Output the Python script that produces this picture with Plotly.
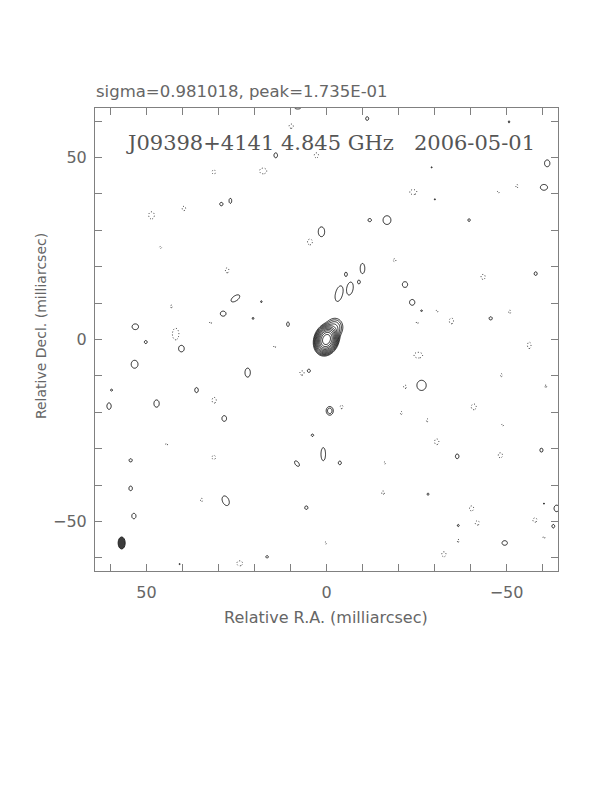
import numpy as np
import plotly.graph_objects as go

# ---------------- data (mas) ----------------
# Core + jet components: position, peak (in units of lowest contour), gaussian sigmas, PA (deg)
core_x = [0.0, -2.0]
core_y = [0.0, 3.0]
core_peak = [2048.0, 12.0]
core_sx = [0.9, 1.1]
core_sy = [1.2, 1.3]
core_pa = [20.0, 25.0]

# Positive (solid) low-level features: position, lowest-contour radii, peak, PA
pos_x = [14.1, 29.2, 26.7, 1.4, 25.3, 18.1, 28.7, 20.4, 53.1, 10.7, 8.0,
         -11.3, -50.7, -61.3, -29.2, -30.1, -60.4, -12.0, -16.8, -39.6, -10.0,
         -5.4, -9.0, -6.5, -3.5, -21.8, -23.8, -26.4, -45.6, -58.1,
         50.2, 40.3, 53.3, 21.9, 4.9, 59.7, 36.1, 60.4, 47.2, 28.4,
         -0.9, 3.9, 0.9, 54.4, 8.2, 54.4, 28.0, 5.6, 53.5, 16.5, 40.8,
         -26.4, -36.3, -59.7, -3.7, -28.2, -60.4, -63.9, -36.6, -63.0, -49.5]
pos_y = [50.6, 37.2, 38.1, 29.6, 11.3, 10.4, 7.1, 5.8, 3.5, 4.2, 63.9,
         60.7, 59.8, 48.4, 47.3, 38.5, 41.8, 32.8, 32.8, 32.8, 19.5,
         17.9, 15.8, 14.0, 12.6, 15.1, 10.2, 7.9, 5.8, 18.1,
         -0.7, -2.5, -6.8, -9.1, -8.6, -13.9, -13.9, -18.3, -17.6, -21.7,
         -19.6, -26.3, -31.5, -33.2, -34.1, -40.9, -44.3, -46.2, -48.5, -59.7, -61.7,
         -12.6, -32.1, -30.4, -33.9, -42.5, -45.1, -46.4, -51.1, -51.3, -55.9]
pos_rx = [0.5, 0.45, 0.4, 0.9, 0.7, 0.25, 0.8, 0.25, 0.9, 0.4, 1.0,
          0.45, 0.25, 0.75, 0.2, 0.2, 1.0, 0.5, 1.1, 0.35, 0.65,
          0.4, 0.4, 0.9, 1.0, 0.75, 0.75, 0.25, 0.45, 0.45,
          0.4, 0.8, 0.95, 0.75, 0.45, 0.3, 0.5, 0.6, 0.75, 0.65,
          1.0, 0.35, 0.65, 0.45, 0.5, 0.5, 0.9, 0.45, 0.6, 0.35, 0.2,
          1.3, 0.5, 0.45, 0.45, 0.3, 0.2, 0.7, 0.3, 0.4, 0.75]
pos_ry = [0.7, 0.5, 0.7, 1.35, 1.4, 0.25, 0.7, 0.3, 0.8, 0.6, 0.6,
          0.5, 0.3, 0.95, 0.2, 0.2, 0.8, 0.45, 1.2, 0.4, 1.4,
          0.6, 0.55, 1.8, 2.2, 0.8, 0.8, 0.25, 0.45, 0.5,
          0.45, 0.9, 1.1, 1.25, 0.45, 0.3, 0.7, 0.9, 1.0, 0.8,
          1.2, 0.35, 1.8, 0.45, 0.9, 0.65, 1.4, 0.5, 0.75, 0.35, 0.2,
          1.4, 0.65, 0.55, 0.5, 0.3, 0.2, 0.9, 0.3, 0.5, 0.65]
pos_peak = [1.6] * len(pos_x)
pos_peak[40] = 2.3
pos_pa = [0.0] * len(pos_x)
pos_pa[4] = 55.0
pos_pa[23] = 10.0
pos_pa[24] = 15.0
pos_pa[44] = -40.0
pos_pa[46] = -25.0

# Negative (dotted) low-level features: position, lowest-contour radii
neg_x = [9.8, 2.8, 31.3, 17.6, 39.6, 48.6, 4.6, 46.1, 27.6, 43.1, 41.9, 32.2,
         -24.1, -47.7, -52.9, -18.9, -30.7, -34.7, -25.2, -43.5, -50.9,
         14.4, 6.8, 31.2, 44.4, 31.3, 34.7, 24.1, 0.2,
         -25.5, -56.3, -21.8, -48.6, -60.9, -4.2, -40.9, -20.8, -28.0, -48.9,
         -30.6, -48.3, -16.2, -15.7, -40.3, -41.9, -57.9, -36.6, -60.4, -32.6]
neg_y = [58.6, 50.6, 46.0, 46.3, 36.0, 34.1, 26.8, 25.3, 19.0, 9.1, 1.5, 4.6,
         40.5, 40.5, 42.1, 21.8, 7.8, 5.1, 4.6, 17.2, 7.6,
         -2.0, -9.2, -16.7, -28.8, -32.4, -44.1, -61.5, -55.9,
         -4.3, -1.6, -13.0, -9.8, -12.8, -18.5, -18.5, -20.2, -22.2, -23.5,
         -28.1, -31.8, -33.9, -42.1, -46.4, -50.4, -49.6, -55.3, -54.4, -59.0]
neg_rx = [0.6, 0.6, 0.5, 1.0, 0.5, 0.8, 0.7, 0.3, 0.5, 0.3, 0.9, 0.3,
          1.0, 0.3, 0.3, 0.4, 0.3, 0.6, 0.3, 0.6, 0.3,
          0.3, 0.6, 0.6, 0.3, 0.5, 0.3, 0.8, 0.3,
          1.2, 0.5, 0.4, 0.3, 0.4, 0.4, 0.7, 0.3, 0.3, 0.3,
          0.6, 0.6, 0.3, 0.4, 0.6, 0.6, 0.6, 0.3, 0.3, 0.6]
neg_ry = [0.6, 0.7, 0.6, 0.8, 0.6, 1.0, 0.8, 0.3, 0.7, 0.4, 1.6, 0.3,
          0.7, 0.3, 0.5, 0.4, 0.3, 0.8, 0.3, 0.7, 0.5,
          0.3, 0.6, 0.8, 0.3, 0.6, 0.5, 0.7, 0.3,
          0.8, 0.9, 0.5, 0.4, 0.3, 0.5, 0.8, 0.4, 0.4, 0.3,
          0.8, 0.7, 0.3, 0.5, 0.7, 0.6, 0.6, 0.4, 0.3, 0.7]
neg_peak = 1.6

# Restoring beam (mas)
beam_x, beam_y = 56.9, -55.9
beam_minor, beam_major = 1.95, 3.3

title_text = "sigma=0.981018, peak=1.735E-01"
label_text = "J09398+4141 4.845 GHz   2006-05-01"
xlab = "Relative R.A. (milliarcsec)"
ylab = "Relative Decl. (milliarcsec)"
tick_vals = list(range(-60, 61, 10))
tick_text = {50: "50", 0: "0", -50: "\u221250"}

# ---------------- image model ----------------
xg = np.arange(-64.6, 64.61, 0.2)
yg = np.arange(-64.0, 64.01, 0.2)
X, Y = np.meshgrid(xg, yg)
img = np.zeros_like(X)


def add_comp(img, x0, y0, peak, sx, sy, pa, power=1.0):
    t = np.deg2rad(pa)
    dx = X - x0
    dy = Y - y0
    u = dx * np.cos(t) + dy * np.sin(t)
    v = -dx * np.sin(t) + dy * np.cos(t)
    q = (u / sx) ** 2 + (v / sy) ** 2
    img += peak * np.exp(-0.5 * q ** power)


for i in range(len(core_x)):
    add_comp(img, core_x[i], core_y[i], core_peak[i], core_sx[i], core_sy[i], core_pa[i])
for i in range(len(pos_x)):
    f = (2 * np.log(pos_peak[i])) ** 0.25
    add_comp(img, pos_x[i], pos_y[i], pos_peak[i], pos_rx[i] / f, pos_ry[i] / f, pos_pa[i], 2.0)
fneg = (2 * np.log(neg_peak)) ** 0.25
for i in range(len(neg_x)):
    add_comp(img, neg_x[i], neg_y[i], -neg_peak, neg_rx[i] / fneg, neg_ry[i] / fneg, 0.0, 2.0)

z_pos = np.log2(np.clip(img, 2 ** -3, None)).astype(np.float32)
z_neg = np.log2(np.clip(-img, 2 ** -3, None)).astype(np.float32)

black = [[0, "#111111"], [1, "#111111"]]
fig = go.Figure()
fig.add_trace(go.Contour(
    x=xg, y=yg, z=z_pos, colorscale=black, showscale=False,
    contours=dict(start=0, end=12, size=1, coloring="lines"),
    line=dict(width=0.9), hoverinfo="skip"))
fig.add_trace(go.Contour(
    x=xg, y=yg, z=z_neg, colorscale=[[0, "#333333"], [1, "#333333"]], showscale=False,
    contours=dict(start=0, end=0.1, size=1, coloring="lines"),
    line=dict(width=1, dash="1px,2px"), hoverinfo="skip"))

fig.add_shape(type="circle", xref="x", yref="y",
              x0=beam_x - beam_minor / 2, x1=beam_x + beam_minor / 2,
              y0=beam_y - beam_major / 2, y1=beam_y + beam_major / 2,
              fillcolor="#3c3c3c", line=dict(color="#222222", width=1))

axis_common = dict(
    tickvals=tick_vals, ticktext=[tick_text.get(v, "") for v in tick_vals],
    ticks="inside", ticklen=7, tickcolor="#808080", tickwidth=1,
    showline=True, linecolor="#808080", linewidth=1, mirror="ticks",
    showgrid=False, zeroline=False,
    tickfont=dict(family="DejaVu Sans", size=16, color="#666666"))

fig.update_xaxes(range=[64.3, -64.3], ticklabelstandoff=7, **axis_common)
fig.update_yaxes(range=[-63.6, 63.6], ticklabelstandoff=4, **axis_common)

sans = dict(family="DejaVu Sans", size=16.5, color="#666666")
fig.update_layout(
    width=596, height=776,
    margin=dict(l=87, r=46, t=100, b=213),
    plot_bgcolor="white", paper_bgcolor="white", showlegend=False,
    annotations=[
        dict(text=title_text, xref="paper", yref="paper", x=-0.002, y=1.0367,
             xanchor="left", yanchor="middle", showarrow=False, font=sans),
        dict(text=label_text, xref="paper", yref="paper", x=0.5086, y=0.9244,
             xanchor="center", yanchor="middle", showarrow=False,
             font=dict(family="DejaVu Serif", size=21, color="#555555")),
        dict(text=xlab, xref="paper", yref="paper", x=0.4989, y=-0.1015,
             xanchor="center", yanchor="middle", showarrow=False,
             font=dict(family="DejaVu Sans", size=16, color="#666666")),
        dict(text=ylab, xref="paper", yref="paper", x=-0.1166, y=0.529,
             xanchor="center", yanchor="middle", showarrow=False, textangle=-90,
             font=dict(family="DejaVu Sans", size=14, color="#666666")),
    ])

fig.write_html("out.html")
